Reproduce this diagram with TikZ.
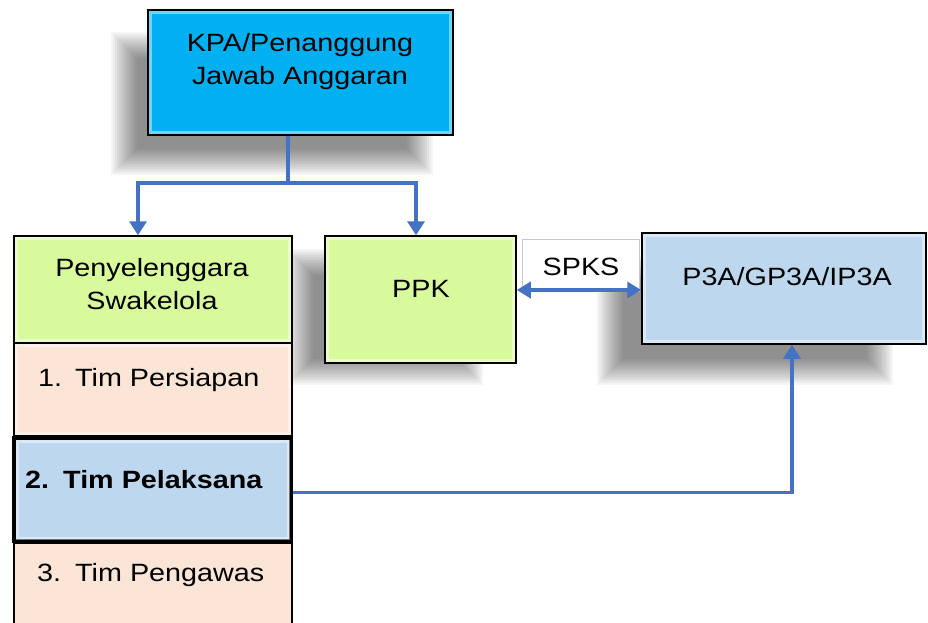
\documentclass[tikz,border=0pt]{standalone}
\usepackage{fontspec}
\setmainfont{Liberation Sans}[FakeStretch=1.15]
\usetikzlibrary{arrows.meta}
\definecolor{kpacol}{HTML}{00B0F0}
\definecolor{greencol}{HTML}{D9F99D}
\definecolor{peachcol}{HTML}{FBE5D6}
\definecolor{bluecol}{HTML}{BDD7EE}
\definecolor{arrowblue}{HTML}{4472C4}
\definecolor{spksline}{HTML}{C8C8C8}
% soft shadow (opaque layers): x1, y1, x2, y2, blur size
\newcommand{\softshadow}[5]{%
  \foreach \k in {0,2,...,#5} {
    \pgfmathsetmacro{\shk}{100*(1-0.96^(\k/2+1))}
    \fill[black!\shk]
      ({#1-#5/2+\k},{#2-#5/2+\k}) rectangle ({#3+#5/2-\k},{#4+#5/2-\k});
  }}
\begin{document}
\begin{tikzpicture}[x=1pt,y=-1pt,
  box/.style={draw=black, line width=1.5pt, rectangle, inner sep=0pt},
  bevel/.style={draw=white, draw opacity=0.45, line width=3pt},
  txt/.style={inner sep=0pt, align=center, font=\fontsize{25}{33}\selectfont},
  ltxt/.style={txt, anchor=west},
  conn/.style={draw=arrowblue, line width=3.5pt},
  arr/.style={conn, -{Triangle[width=17pt,length=14pt]}},
  darr/.style={conn, {Triangle[width=16pt,length=14pt]}-{Triangle[width=16pt,length=14pt]}}
]
\useasboundingbox (0,0) rectangle (928,622);
\fill[white] (0,0) rectangle (928,622);

% soft shadows
\softshadow{124}{45}{420}{162}{26}
\softshadow{300}{262}{470}{372}{26}
\softshadow{610}{268}{880}{372}{26}

% KPA
\node[box, fill=kpacol, minimum width=305pt, minimum height=125pt] (kpa) at (300.5,72.5) {};
\node[txt] (kpat) at (300,62) {KPA/Penanggung\\Jawab Anggaran};

% Penyelenggara column
\node[box, fill=greencol, minimum width=278pt, minimum height=107pt] (peny) at (153,289.5) {};
\node[txt] (penyt) at (152,284) {Penyelenggara\\Swakelola};
\node[box, fill=peachcol, minimum width=278pt, minimum height=93pt] (pers) at (153,389.5) {};
\node[ltxt] (perst) at (38,380) {\makebox[37pt][l]{1.}Tim Persiapan};
\node[box, fill=peachcol, minimum width=278pt, minimum height=137pt] (peng) at (153,611.5) {};
\node[ltxt] (pengt) at (37,575) {\makebox[38pt][l]{3.}Tim Pengawas};
\node[box, fill=bluecol, line width=4pt, minimum width=277pt, minimum height=103pt] (pel) at (152.5,489.5) {};
\node[ltxt, font=\fontsize{25}{33}\selectfont\bfseries] (pelt) at (25,480) {\makebox[38pt][l]{2.}Tim Pelaksana};

% PPK
\node[box, fill=greencol, minimum width=191pt, minimum height=127pt] (ppk) at (420.5,299.5) {};
\node[txt] (ppkt) at (421,289) {PPK};

% P3A
\node[box, fill=bluecol, minimum width=284pt, minimum height=111pt] (p3a) at (784,288.5) {};
\node[txt] (p3at) at (787,277) {P3A/GP3A/IP3A};

% SPKS
\node[draw=spksline, fill=white, line width=1pt, inner sep=0pt, minimum width=117pt, minimum height=52pt] (spks) at (580.5,265) {};
\node[txt] (spkst) at (581,267) {SPKS};

% bevel highlights
\foreach \n in {kpa,peny,pers,ppk,p3a}
  \draw[bevel] ([shift={(3.5,3.5)}]\n.north west) rectangle ([shift={(-3.5,-3.5)}]\n.south east);
\draw[bevel] ([shift={(5,5)}]pel.north west) rectangle ([shift={(-5,-5)}]pel.south east);

% connectors
\coordinate (j) at (288,183);
\draw[conn] ([xshift=-12.5pt]kpa.south) -- (j);
\draw[arr] (j) -| ([xshift=-15pt]peny.north);
\draw[arr] (j) -| ([xshift=-4.5pt]ppk.north);
\draw[darr] ([yshift=9.5pt]ppk.east) -- ([yshift=9.5pt]ppk.east -| p3a.west);
\draw[arr] ([yshift=-3pt]pel.east) -| ([xshift=8pt]p3a.south);
\end{tikzpicture}
\end{document}
